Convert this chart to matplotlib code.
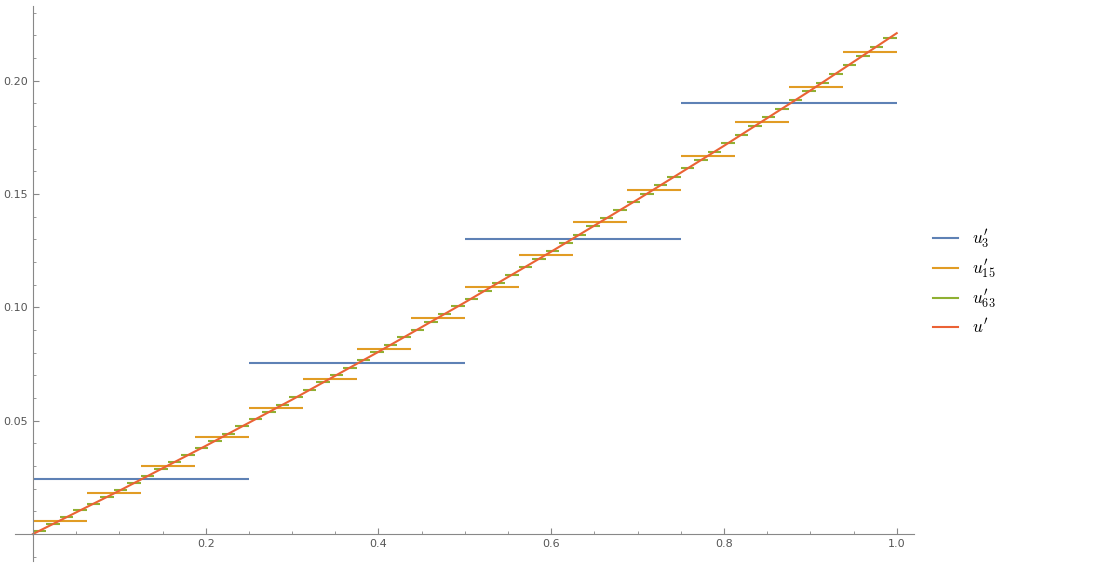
import numpy as np
import matplotlib.pyplot as plt
from matplotlib.ticker import MultipleLocator, FixedLocator

plt.rcParams['mathtext.fontset'] = 'cm'

# step values (averages on each sub-interval)
u3 = [0.0241, 0.0756, 0.1303, 0.1901]

u15 = [0.0059, 0.0179, 0.0302, 0.0427, 0.0555, 0.0685, 0.0818, 0.0953,
       0.1091, 0.1232, 0.1375, 0.1520, 0.1668, 0.1819, 0.1972, 0.2128]

u63 = [0.0015, 0.0044, 0.0074, 0.0104, 0.0134, 0.0164, 0.0194, 0.0225,
       0.0256, 0.0286, 0.0317, 0.0348, 0.0380, 0.0411, 0.0443, 0.0475,
       0.0506, 0.0539, 0.0571, 0.0603, 0.0636, 0.0669, 0.0701, 0.0734,
       0.0768, 0.0801, 0.0835, 0.0868, 0.0902, 0.0936, 0.0970, 0.1005,
       0.1039, 0.1074, 0.1109, 0.1143, 0.1179, 0.1214, 0.1249, 0.1285,
       0.1321, 0.1357, 0.1393, 0.1429, 0.1465, 0.1502, 0.1539, 0.1575,
       0.1613, 0.1650, 0.1687, 0.1725, 0.1762, 0.1800, 0.1838, 0.1876,
       0.1915, 0.1953, 0.1992, 0.2030, 0.2069, 0.2109, 0.2148, 0.2187]

# exact curve u'
x_u = [0.0, 0.1, 0.2, 0.3, 0.4, 0.5, 0.6, 0.7, 0.8, 0.9, 1.0]
y_u = [0.0, 0.0191, 0.0389, 0.0593, 0.0804, 0.1022, 0.1246, 0.1476, 0.1713, 0.1957, 0.2210]

c_blue, c_orange, c_green, c_red = '#5E81B5', '#E19C24', '#8FB032', '#EB6235'

fig = plt.figure(figsize=(11.07, 5.70), dpi=100)
ax = fig.add_axes([0.01355, 0.0158, 0.8121, 0.9737])


def steps(vals, color, label):
    n = len(vals)
    edges = np.linspace(0, 1, n + 1)
    ax.hlines(vals, edges[:-1], edges[1:], colors=color, linewidth=1.5,
              capstyle='butt')
    ax.plot([], [], color=color, linewidth=1.5, label=label)


steps(u3, c_blue, r"$u^{\prime}_{3}$")
steps(u15, c_orange, r"$u^{\prime}_{15}$")
steps(u63, c_green, r"$u^{\prime}_{63}$")
ax.plot(x_u, y_u, color=c_red, linewidth=1.5, label=r"$u^{\prime}$")

ax.set_xlim(-0.0208, 1.02)
ax.set_ylim(-0.0119, 0.233)

for s in ['top', 'right']:
    ax.spines[s].set_visible(False)
ax.spines['left'].set_position(('data', 0))
ax.spines['bottom'].set_position(('data', 0))
for s in ['left', 'bottom']:
    ax.spines[s].set_color('#888888')
    ax.spines[s].set_linewidth(0.8)

ax.xaxis.set_major_locator(FixedLocator([0.2, 0.4, 0.6, 0.8, 1.0]))
ax.xaxis.set_minor_locator(MultipleLocator(0.05))
ax.yaxis.set_major_locator(FixedLocator([0.05, 0.10, 0.15, 0.20]))
ax.yaxis.set_minor_locator(MultipleLocator(0.01))
ax.set_xticklabels(['0.2', '0.4', '0.6', '0.8', '1.0'])
ax.set_yticklabels(['0.05', '0.10', '0.15', '0.20'])
ax.tick_params(which='both', direction='in', color='#888888',
               labelcolor='#555555', labelsize=8)
ax.tick_params(which='major', length=4, width=0.8)
ax.tick_params(which='minor', length=2.5, width=0.6)

fig.legend(loc='center left', bbox_to_anchor=(933 / 1107, 0.505),
           frameon=False, fontsize=12.5, handlelength=1.45, handletextpad=0.8,
           labelspacing=0.4, borderpad=0, borderaxespad=0)

fig.savefig('out.png', dpi=100)
